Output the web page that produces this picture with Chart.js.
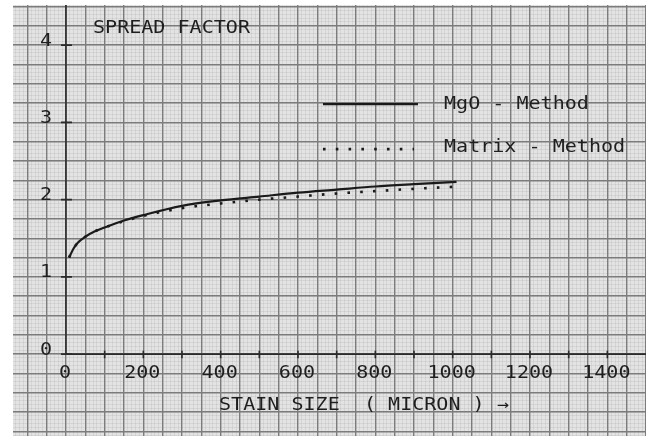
<!DOCTYPE html>
<html>
<head>
<meta charset="utf-8">
<script src="https://cdn.jsdelivr.net/npm/chart.js@4.4.1/dist/chart.umd.min.js"></script>
<style>
html,body{margin:0;padding:0;background:#fff;}
#wrap{width:646px;height:436px;}
</style>
</head>
<body>
<div id="wrap"><canvas id="c" width="646" height="436"></canvas></div>
<script>
// ---- data ----
const mgoX    = [8, 20, 30, 50, 75, 100, 150, 200, 300, 400, 500, 600, 700, 800, 900, 1010];
const mgoY    = [1.25, 1.37, 1.44, 1.52, 1.59, 1.64, 1.73, 1.80, 1.92, 1.99, 2.04, 2.09, 2.13, 2.17, 2.20, 2.23];
const matrixX = [8, 20, 30, 50, 75, 100, 150, 200, 300, 400, 500, 600, 700, 800, 900, 1000];
const matrixY = [1.25, 1.37, 1.44, 1.52, 1.59, 1.64, 1.72, 1.79, 1.89, 1.95, 2.00, 2.04, 2.08, 2.11, 2.14, 2.165];
const xTickValues = [0, 200, 400, 600, 800, 1000, 1200, 1400];
const xTickLabels = ['0', '200', '400', '600', '800', '1000', '1200', '1400'];
const xMinorTickValues = [100, 300, 500, 700, 900, 1100, 1300];
const yTickValues = [0, 1, 2, 3, 4];
const yTickLabels = ['0', '1', '2', '3', '4'];
const seriesNames = ['MgO - Method', 'Matrix - Method'];
const titleText = 'SPREAD FACTOR';
const xAxisTitle = 'STAIN SIZE  ( MICRON ) \u2192';

const FONT = '17px "DejaVu Sans Mono", monospace';
const INK = '#1e1e1e';
const STRETCH = 1.18;

function pts(xs, ys) { return xs.map((x, i) => ({x: x, y: ys[i]})); }

function drawText(ctx, str, x, y, align) {
  ctx.save();
  ctx.translate(x, y);
  ctx.scale(STRETCH, 1);
  ctx.textAlign = align;
  ctx.textBaseline = 'middle';
  ctx.fillText(str, 0, 0);
  ctx.restore();
}

const paperPlugin = {
  id: 'paper',
  beforeDraw(chart) {
    const ctx = chart.ctx, a = chart.chartArea;
    ctx.save();
    ctx.fillStyle = '#ffffff';
    ctx.fillRect(0, 0, chart.width, chart.height);
    ctx.fillStyle = '#e3e3e3';
    ctx.fillRect(a.left, a.top, a.right - a.left, a.bottom - a.top);
    ctx.restore();
  }
};

const overlayPlugin = {
  id: 'overlay',
  afterDatasetsDraw(chart) {
    const ctx = chart.ctx, xs = chart.scales.x, ys = chart.scales.y;
    const X = v => xs.getPixelForValue(v), Y = v => ys.getPixelForValue(v);
    ctx.save();
    ctx.strokeStyle = '#2a2a2a';
    ctx.lineWidth = 1.6;
    // axes
    ctx.beginPath();
    ctx.moveTo(X(0), Y(0)); ctx.lineTo(X(0), Y(ys.max));
    ctx.moveTo(X(0), Y(0)); ctx.lineTo(X(xs.max), Y(0));
    ctx.stroke();
    // y ticks
    ctx.beginPath();
    yTickValues.forEach(v => { ctx.moveTo(X(0) - 5, Y(v)); ctx.lineTo(X(0) + 6, Y(v)); });
    // x ticks
    xTickValues.concat(xMinorTickValues).forEach(v => { if (v > 0) { ctx.moveTo(X(v), Y(0) - 3.5); ctx.lineTo(X(v), Y(0) + 4); } });
    ctx.stroke();

    ctx.fillStyle = INK;
    ctx.font = FONT;
    // y tick labels
    yTickValues.forEach((v, i) => drawText(ctx, yTickLabels[i], X(0) - 20, Y(v) - 4, 'center'));
    // x tick labels
    xTickValues.forEach((v, i) => drawText(ctx, xTickLabels[i], X(v) - 1, Y(0) + 19, 'center'));
    // titles
    drawText(ctx, titleText, X(0) + 27, Y(0) - 326, 'left');
    drawText(ctx, xAxisTitle, X(0) + 153, Y(0) + 51, 'left');

    // legend
    const ds = chart.data.datasets;
    const lx0 = X(0) + 257, lx1 = X(0) + 352, tx = X(0) + 378;
    const rows = [Y(0) - 250, Y(0) - 205];
    ds.forEach((d, i) => {
      ctx.save();
      ctx.strokeStyle = d.borderColor;
      ctx.lineWidth = d.borderWidth;
      ctx.setLineDash(d.borderDash || []);
      ctx.beginPath();
      ctx.moveTo(lx0, rows[i]); ctx.lineTo(i === 0 ? lx1 : lx1 - 4, rows[i]);
      ctx.stroke();
      ctx.restore();
      drawText(ctx, d.label, tx, rows[i] - (i === 0 ? 0 : 2), 'left');
    });
    ctx.restore();
  }
};

const gridX = (step, color, width, dash, z) => ({
  type: 'linear', position: 'bottom', min: -137, max: 1500, z: z,
  ticks: {display: false, stepSize: step, includeBounds: false},
  border: {display: false},
  grid: {color: color, lineWidth: width, drawTicks: false},
  afterFit(s) { s.height = 0; }
});
const gridY = (step, color, width, dash, z) => ({
  type: 'linear', position: 'left', min: -1.06, max: 4.52, z: z,
  ticks: {display: false, stepSize: step, includeBounds: false},
  border: {display: false},
  grid: {color: color, lineWidth: width, drawTicks: false},
  afterFit(s) { s.width = 0; }
});

const scales = {
  xMinor: gridX(10, 'rgba(140,140,140,0.16)', 1, [], -3),
  yMinor: gridY(0.05, 'rgba(140,140,140,0.16)', 1, [], -3),
  x: gridX(50, '#7c7c7c', 1.4, [], -1),
  y: gridY(0.25, '#7c7c7c', 1.4, [], -1)
};

new Chart(document.getElementById('c'), {
  type: 'line',
  data: {
    datasets: [
      {label: seriesNames[0], data: pts(mgoX, mgoY), borderColor: '#1a1a1a', borderWidth: 2.2,
       pointRadius: 0, cubicInterpolationMode: 'monotone', fill: false, xAxisID: 'x', yAxisID: 'y'},
      {label: seriesNames[1], data: pts(matrixX, matrixY), borderColor: '#1a1a1a', borderWidth: 2.6,
       borderDash: [2.6, 10.2], pointRadius: 0, cubicInterpolationMode: 'monotone', fill: false, xAxisID: 'x', yAxisID: 'y'}
    ]
  },
  options: {
    responsive: false,
    animation: false,
    events: [],
    layout: {padding: {left: 13, top: 5, right: 0, bottom: 0}},
    plugins: {legend: {display: false}, tooltip: {enabled: false}, title: {display: false}},
    scales: scales
  },
  plugins: [paperPlugin, overlayPlugin]
});
</script>
</body>
</html>
